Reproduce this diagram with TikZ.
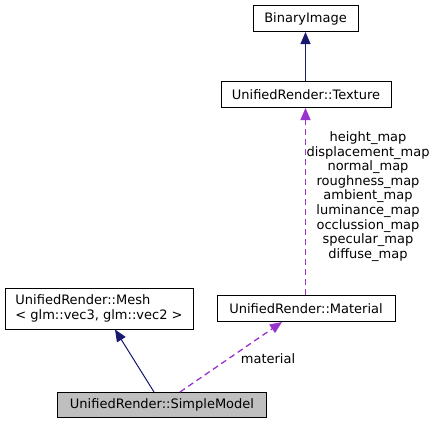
\documentclass[tikz,border=0pt]{standalone}
\usepackage{fontspec}
\setmainfont{DejaVu Sans}
\usetikzlibrary{arrows.meta}
\definecolor{navyedge}{HTML}{191970}
\definecolor{purpedge}{HTML}{9A32CD}
\definecolor{curgray}{HTML}{BFBFBF}
\begin{document}
\begin{tikzpicture}[x=1pt,y=-1pt,
  cls/.style={draw=black,line width=1pt,fill=white,inner sep=0pt,font=\fontsize{13}{14.6}\selectfont},
  inh/.style={draw=navyedge,line width=1pt,-{Triangle[length=12pt,width=10pt]},fill=navyedge},
  use/.style={draw=purpedge,line width=1.3pt,dash pattern=on 6pt off 4pt,-{Triangle[length=12pt,width=10pt,fill=purpedge]}},
  lbl/.style={font=\fontsize{13}{14.6}\selectfont,inner sep=0pt,align=center}]
\useasboundingbox (0,0) rectangle (437,424);
\node[cls,minimum width=105,minimum height=26] (bin) at (305.5,18.5) {BinaryImage};
\node[cls,minimum width=170,minimum height=26] (tex) at (306,94.5) {UnifiedRender::Texture};
\node[cls,minimum width=188,minimum height=41,align=left] (mesh) at (99,308.5) {UnifiedRender::Mesh\\\textless{} glm::vec3, glm::vec2 \textgreater};
\node[cls,minimum width=178,minimum height=26] (mat) at (306,308.5) {UnifiedRender::Material};
\node[cls,fill=curgray,minimum width=209,minimum height=25] (sm) at (162,405) {UnifiedRender::SimpleModel};
\draw[inh] (tex.north -| 305.5,0) -- (bin.south -| 305.5,0);
\draw[inh] (sm.north -| 154,0) -- (mesh.south -| 115,0);
\draw[use] (sm.north -| 180,0) -- (mat.south -| 282,0);
\draw[use] (mat.north -| 305.5,0) -- (tex.south -| 305.5,0);
\node[lbl] (matlbl) at (268,359) {material};
\node[lbl,anchor=north] (maps) at (368,131.5) {height\_map\\displacement\_map\\normal\_map\\roughness\_map\\ambient\_map\\luminance\_map\\occlussion\_map\\specular\_map\\diffuse\_map};
\end{tikzpicture}
\end{document}
